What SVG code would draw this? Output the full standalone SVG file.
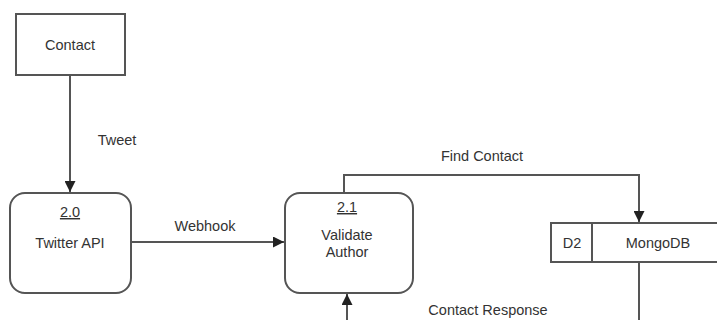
<svg xmlns="http://www.w3.org/2000/svg" width="717" height="320" viewBox="0 0 717 320">
<defs>
<style>
.box{fill:#fff;stroke:#555;stroke-width:2}
.ln{fill:none;stroke:#555;stroke-width:2}
text{font-family:"Liberation Sans",Arial,sans-serif;font-size:14.5px;fill:#333;text-anchor:middle}
</style>
<marker id="arr" viewBox="0 0 10 10" refX="10" refY="5" markerWidth="5.5" markerHeight="5.5" orient="auto" markerUnits="strokeWidth">
<path d="M0,0 L10,5 L0,10 z" fill="#222"/>
</marker>
</defs>
<rect width="717" height="320" fill="#fff"/>
<g id="connectors">
<path class="ln" d="M70,75 V192" marker-end="url(#arr)"/>
<text x="117" y="145">Tweet</text>
<path class="ln" d="M131,242 H284" marker-end="url(#arr)"/>
<text x="205" y="231">Webhook</text>
<path class="ln" d="M344,193 V175 H639 V222" marker-end="url(#arr)"/>
<text x="482" y="161">Find Contact</text>
<path class="ln" d="M639,262 V320"/>
<path class="ln" d="M347,320 V294" marker-end="url(#arr)"/>
<text x="488" y="315">Contact Response</text>
</g>
<g id="contact">
<rect class="box" x="16" y="14" width="109" height="61"/>
<text x="70" y="50">Contact</text>
</g>
<g id="twitter-api">
<rect class="box" x="10" y="193" width="121" height="100" rx="15"/>
<text x="70" y="217" text-decoration="underline">2.0</text>
<text x="70" y="248">Twitter API</text>
</g>
<g id="validate-author">
<rect class="box" x="285" y="193" width="128" height="100" rx="15"/>
<text x="347" y="212" text-decoration="underline">2.1</text>
<text x="347" y="240">Validate</text>
<text x="347" y="257">Author</text>
</g>
<g id="mongodb">
<rect class="box" x="551" y="223" width="175" height="39"/>
<path class="ln" d="M592,223 V262"/>
<text x="572" y="248">D2</text>
<text x="658" y="248">MongoDB</text>
</g>
</svg>
